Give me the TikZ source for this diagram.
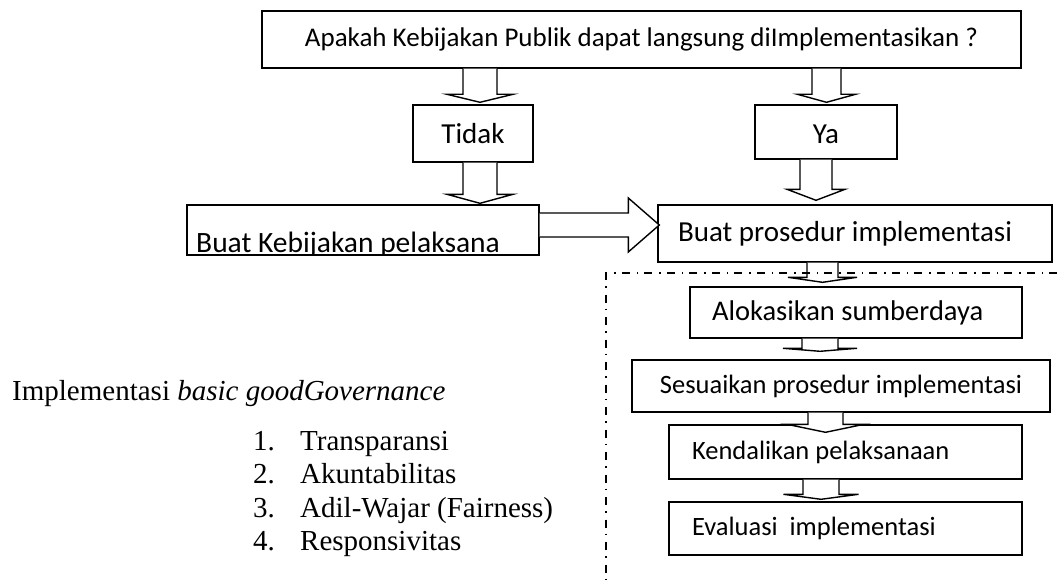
\documentclass[tikz,border=0pt]{standalone}
\usepackage{fontspec}
\setmainfont{Carlito}
\newfontfamily\serifbody{Liberation Serif}
\usetikzlibrary{calc}

\newcommand\boxfont[1]{\fontsize{#1}{#1}\selectfont}
\newcommand\listfont{\serifbody\fontsize{29}{29}\selectfont}

\tikzset{
  box/.style={draw, line width=1.4pt, inner sep=0pt, fill=white},
  flushbox/.style={box, align=flush left},
  blockarrow/.style={draw, line width=1.4pt, fill=white, line join=miter},
  dashdot/.style={line width=1.2pt, dash pattern=on 8pt off 6pt on 1.5pt off 7pt},
  listtext/.style={anchor=base west, inner sep=0pt, font=\listfont},
}

% Hollow block arrow pointing down from one box to the next.
% #1 from, #2 to, #3 x of the axis, #4 shaft half width, #5 head half width,
% #6 head length, #7 gap between tip and the top of #2 (negative: overlap)
\newcommand\blockdown[7]{%
  \draw[blockarrow] let \p1=(#1.south), \p2=(#2.north) in
    (#3pt-#4pt,\y1) -- (#3pt-#4pt,\y2+#7pt+#6pt) -- (#3pt-#5pt,\y2+#7pt+#6pt)
    -- (#3pt,\y2+#7pt) -- (#3pt+#5pt,\y2+#7pt+#6pt) -- (#3pt+#4pt,\y2+#7pt+#6pt)
    -- (#3pt+#4pt,\y1);}

\begin{document}
\begin{tikzpicture}[x=1pt, y=-1pt]
\useasboundingbox (0,0) rectangle (1057,583);

% question and the two answers
\node[box, minimum width=759pt, minimum height=57pt, font=\boxfont{27}] (q) at (641.5,39.5)
  {Apakah Kebijakan Publik dapat langsung diImplementasikan ?};
\node[box, minimum width=120pt, minimum height=57pt, text height=19pt, text depth=0pt,
  font=\boxfont{29}] (tidak) at (473,133.5) {Tidak};
\node[box, minimum width=142pt, minimum height=54pt, text height=23pt, text depth=0pt,
  font=\boxfont{29}] (ya) at (826,132) {Ya};

% second row
\node[box, minimum width=352pt, minimum height=50pt] (kb) at (363,230) {};
\begin{scope}
  \clip (kb.south west) rectangle (kb.north east);
  \node[anchor=base west, inner sep=0pt, font=\boxfont{29.5}] (kbtext) at (196,252) {Buat Kebijakan pelaksana};
\end{scope}
\node[flushbox, minimum height=57pt, text width=354pt, inner xsep=20pt, font=\boxfont{29}] (bp) at (855,233.5)
  {Buat prosedur implementasi};

% implementation steps
\node[flushbox, minimum height=51pt, text width=288pt, inner xsep=22pt, font=\boxfont{28.5}] (al) at (856,312.5)
  {Alokasikan sumberdaya};
\node[box, minimum width=418pt, minimum height=52pt, font=\boxfont{26.5}] (ss) at (841,386)
  {Sesuaikan prosedur implementasi};
\node[flushbox, minimum height=54pt, text width=307pt, inner xsep=23pt, font=\boxfont{26.5}] (kd) at (845.5,452)
  {Kendalikan pelaksanaan};
\node[flushbox, minimum height=53pt, text width=307pt, inner xsep=23pt, font=\boxfont{26.5}] (ev) at (845.5,528.5)
  {Evaluasi\hspace{0.45em}implementasi};

% connectors
\blockdown{q}{tidak}{480}{17}{33}{8}{2}
\blockdown{q}{ya}{826.5}{14.5}{29}{8}{2}
\blockdown{tidak}{kb}{480}{17}{33}{9}{1}
\blockdown{ya}{bp}{816}{16}{29}{11}{4}
\blockdown{bp}{al}{822.5}{15.5}{34.5}{5}{4}
\blockdown{al}{ss}{820}{18}{37}{3}{8}
\blockdown{ss}{kd}{825.5}{17.5}{38.5}{8}{-8}
\blockdown{kd}{ev}{821}{18}{37.5}{5}{2}

\draw[blockarrow] let \p1=(kb.east), \p2=(bp.west) in
  (\x1,-213pt) -- (\x2-29pt,-213pt) -- (\x2-29pt,-198pt) -- (\x2+2pt,-225pt)
  -- (\x2-29pt,-252pt) -- (\x2-29pt,-237pt) -- (\x1,-237pt);

% frame around the implementation steps
\coordinate (fr) at (1057,273);
\coordinate (fc) at (606,273);
\coordinate (fb) at (606,583);
\draw[dashdot] (fr) -- (fc) -- (fb);

% good governance principles
\node[listtext] (gg) at (12,400) {Implementasi \textit{basic goodGovernance}};
\node[listtext] (n1) at (253,450) {1.};
\node[listtext] (i1) at (300,450) {Transparansi};
\node[listtext] (n2) at (253,483.5) {2.};
\node[listtext] (i2) at (300,483.5) {Akuntabilitas};
\node[listtext] (n3) at (253,517) {3.};
\node[listtext] (i3) at (300,517) {Adil-Wajar (Fairness)};
\node[listtext] (n4) at (253,550.5) {4.};
\node[listtext] (i4) at (300,550.5) {Responsivitas};
\end{tikzpicture}
\end{document}
